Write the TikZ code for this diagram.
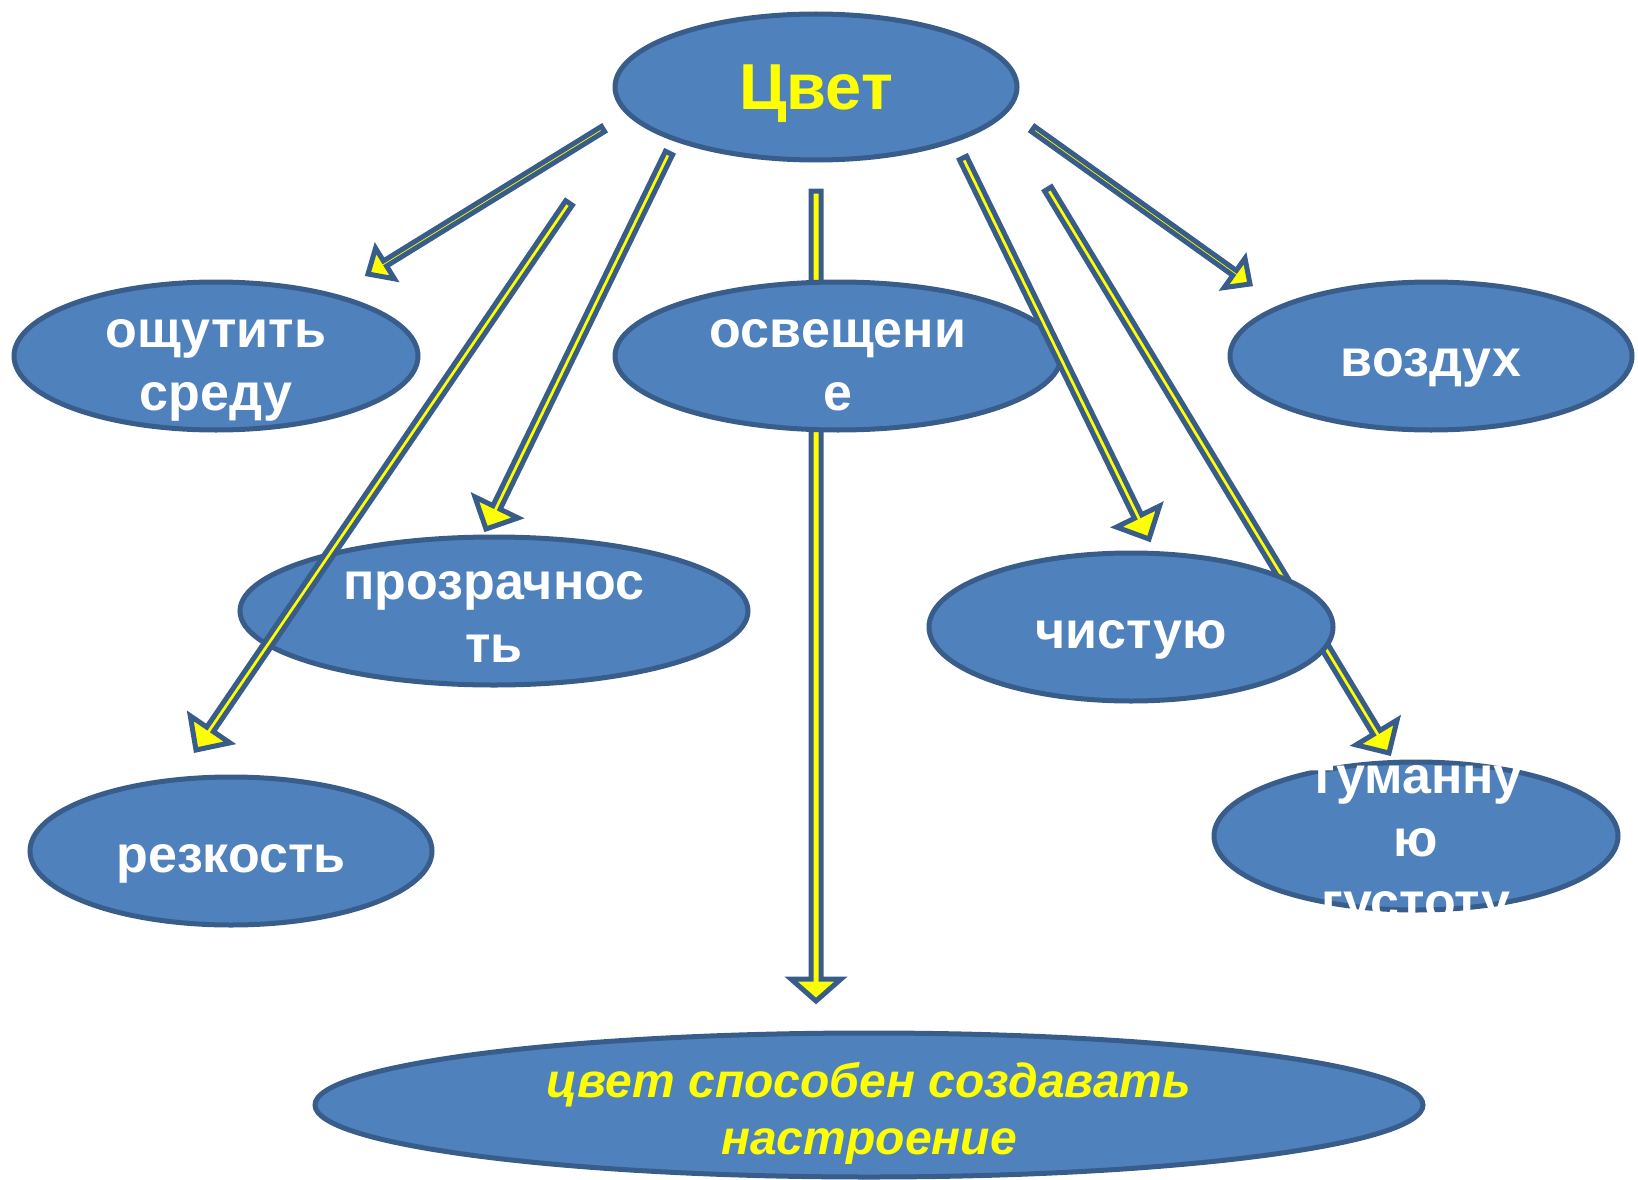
\documentclass[tikz,border=0pt]{standalone}
\usepackage{fontspec}
\setmainfont{Liberation Sans}
\usetikzlibrary{shapes.geometric,calc}
\definecolor{efill}{HTML}{4F81BD}
\definecolor{eline}{HTML}{385D8A}
\definecolor{ayel}{HTML}{FFFF00}
% block arrow: tail, tip, shaft half-width, head half-width, head length (all in pt)
\newcommand\blockarrow[5]{%
  \path ($(#2)!#5pt!(#1)$) coordinate (ba);
  \draw[barrow] ($(#1)!#3pt!90:(#2)$) -- ($(ba)!#3pt!90:(#2)$) -- ($(ba)!#4pt!90:(#2)$)
    -- (#2) -- ($(ba)!#4pt!-90:(#2)$) -- ($(ba)!#3pt!-90:(#2)$) -- ($(#1)!#3pt!-90:(#2)$) -- cycle;}
\newcommand\mlines[1]{\begin{tabular}[t]{@{}c@{}}#1\end{tabular}}
\begin{document}
\begin{tikzpicture}[x=1pt,y=-1pt,
  oval/.style={ellipse, draw=eline, fill=efill, line width=5pt, inner sep=0pt},
  btxt/.style={text=white, font=\bfseries\fontsize{52}{63}\selectfont, anchor=base, inner sep=0pt},
  barrow/.style={draw=eline, fill=ayel, line width=5pt, line join=miter}]
\useasboundingbox (0,0) rectangle (1638,1180);

% arrow end points
\coordinate (t1) at (603,129);  \coordinate (h1) at (368,274);
\coordinate (t2) at (569,203);  \coordinate (h2) at (196,750);
\coordinate (t3) at (669,153);  \coordinate (h3) at (486,529);
\coordinate (t4) at (816,191);  \coordinate (h4) at (816,1001);
\coordinate (t5) at (963,158);  \coordinate (h5) at (1149,539);
\coordinate (t6) at (1048,189); \coordinate (h6) at (1389,753);
\coordinate (t7) at (1033,129); \coordinate (h7) at (1250,284);

% arrows passing behind ellipses
\blockarrow{t4}{h4}{5}{25}{22}
\blockarrow{t6}{h6}{4}{24}{24}

% ellipses
\node[oval, minimum width=402, minimum height=146] (cvet)  at (816,87) {};
\node[oval, minimum width=404, minimum height=148] (osh)   at (216,356) {};
\node[oval, minimum width=446, minimum height=148] (osv)   at (838,356) {};
\node[oval, minimum width=402, minimum height=148] (voz)   at (1431,356) {};
\node[oval, minimum width=508, minimum height=148] (proz)  at (494,611) {};
\node[oval, minimum width=404, minimum height=148] (chist) at (1131,627) {};
\node[oval, minimum width=402, minimum height=148] (rez)   at (231,851) {};
\node[oval, minimum width=404, minimum height=148] (tum)   at (1416,836) {};
\node[oval, minimum width=1108, minimum height=144] (bot)  at (869,1105) {};

% arrows drawn on top
\blockarrow{t1}{h1}{3}{18}{20}
\blockarrow{t2}{h2}{4}{24}{25}
\blockarrow{t3}{h3}{4}{24}{24}
\blockarrow{t5}{h5}{4}{24}{25}
\blockarrow{t7}{h7}{3}{18}{19}

% texts
\node[btxt, text=ayel, font=\bfseries\fontsize{65}{78}\selectfont] (cvet-t) at (816,110) {Цвет};
\node[btxt] (osh-t)   at (216,347)  {\mlines{ощутить\\среду}};
\node[btxt] (osv-t)   at (838,347)  {\mlines{освещени\\е}};
\node[btxt] (voz-t)   at (1431,376) {воздух};
\node[btxt] (proz-t)  at (494,599)  {\mlines{прозрачнос\\ть}};
\node[btxt] (chist-t) at (1131,648) {чистую};
\node[btxt] (rez-t)   at (231,872)  {резкость};
\begin{scope}
  \clip (1180,740) rectangle (1660,913);
  \node[btxt] (tum-t) at (1416,793) {\mlines{туманну\\ю\\густоту}};
\end{scope}
\node[btxt, text=ayel, font=\bfseries\itshape\fontsize{48}{57}\selectfont] (bot-t) at (869,1097)
  {\mlines{цвет способен создавать\\настроение}};
\end{tikzpicture}
\end{document}
